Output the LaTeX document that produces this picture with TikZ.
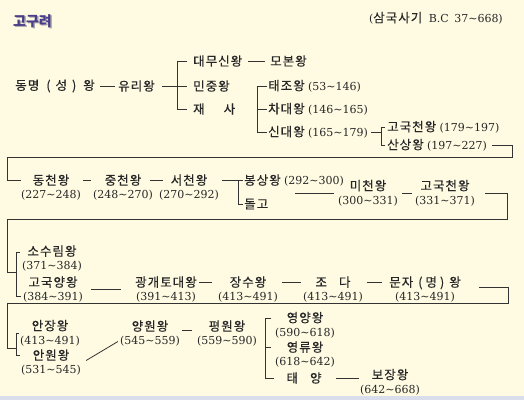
\documentclass[tikz,border=0pt]{standalone}
\usepackage{fontspec}
\setmainfont{DejaVu Serif}
\newfontfamily\krfont[LetterSpace=8,FakeBold=0.4]{Noto Sans CJK KR}
\newfontfamily\krtitle{Noto Sans CJK KR}
\newcommand\kor[1]{{\fontsize{12.5}{14}\selectfont\krfont #1}}
\newcommand\tld{\textasciitilde}
\definecolor{bgc}{HTML}{FFFBE3}
\definecolor{stripc}{HTML}{D9DDEC}
\definecolor{textc}{HTML}{262626}
\definecolor{linec}{HTML}{333333}
\definecolor{titlec}{HTML}{4A3C8C}
\begin{document}
\begin{tikzpicture}[x=1pt,y=-1pt,
  ln/.style={draw=linec, line width=0.8pt},
  tx/.style={inner sep=0pt, text=textc, font=\fontsize{11}{14}\selectfont},
  two/.style={tx, align=center},
  ttlstyle/.style={inner sep=0pt, font=\fontsize{14}{16}\selectfont\krtitle\bfseries}]
\useasboundingbox (0,0) rectangle (524,400);
\fill[bgc] (0,0) rectangle (524,400);
\fill[stripc] (0,396) rectangle (524,400);

% header
\node[ttlstyle, text=black!35] (ttlsh) at (34,22.5) {고구려};
\node[ttlstyle, text=titlec] (ttl) at (32.5,21) {고구려};
\node[tx, anchor=east] (src) at (503,18) {(\kor{삼국사기}\hspace{3pt} B.C\hspace{2pt} 37\tld668)};

% row 1
\node[tx, anchor=east] (dm) at (95,86) {\kor{동명\hspace{7pt}(\hspace{5pt}성\hspace{5pt})\hspace{7pt}왕}};
\node[tx, anchor=west] (yr) at (118,86) {\kor{유리왕}};
\draw[ln] ([xshift=5pt]dm.east) -- ([xshift=-3pt]yr.west);
\node[tx, anchor=west] (dms) at (193,61) {\kor{대무신왕}};
\node[tx, anchor=west] (mb) at (270,61) {\kor{모본왕}};
\draw[ln] ([xshift=6pt]dms.east) -- ([xshift=-5pt]mb.west);
\node[tx, anchor=west] (mj) at (193,86) {\kor{민중왕}};
\node[tx, anchor=west] (jsa) at (193,109) {\kor{재\hspace{19pt}사}};
\coordinate (b1t) at (177,61);
\coordinate (b1b) at (177,109);
\draw[ln] ([xshift=-6pt]dms.west) -- (b1t) -- (b1b) -- ([xshift=-6pt]jsa.west);
\draw[ln] ([xshift=7pt]yr.east) -- ([xshift=-6pt]mj.west);

% sons of jaesa
\node[tx, anchor=west] (tj) at (268,86) {\kor{태조왕} (53\tld146)};
\node[tx, anchor=west] (cd) at (268,109) {\kor{차대왕} (146\tld165)};
\node[tx, anchor=west] (sd) at (268,132) {\kor{신대왕} (165\tld179)};
\coordinate (b2t) at (257,86);
\coordinate (b2b) at (257,132);
\draw[ln] ([xshift=-1pt]tj.west) -- (b2t) -- (b2b) -- ([xshift=-1pt]sd.west);
\draw[ln] (b2t |- cd.west) -- ([xshift=-1pt]cd.west);

\node[tx, anchor=west] (gk1) at (387,127) {\kor{고국천왕} (179\tld197)};
\node[tx, anchor=west] (ss) at (387,145) {\kor{산상왕} (197\tld227)};
\coordinate (b3t) at (381,127);
\coordinate (b3b) at (381,145);
\coordinate (b3m) at (381,132);
\draw[ln] ([xshift=3pt]sd.east) -- (b3m);
\draw[ln] ([xshift=-2pt]gk1.west) -- (b3t) -- (b3b) -- ([xshift=-2pt]ss.west);

% wrap 1
\coordinate (w1a) at (512,157);
\coordinate (w1b) at (7,157);

% row 3
\node[two] (dc) at (51,187.5) {\kor{동천왕}\\(227\tld248)};
\node[two] (jc) at (123,187.5) {\kor{중천왕}\\(248\tld270)};
\node[two] (sc) at (189,187.5) {\kor{서천왕}\\(270\tld292)};
\draw[ln] ([xshift=5pt]ss.east) -| (w1a) -- (w1b) |- ([yshift=7pt]dc.west);
\draw[ln] ([xshift=2pt,yshift=7pt]dc.east) -- ([xshift=-2pt,yshift=7pt]jc.west);
\draw[ln] ([xshift=-3pt,yshift=7pt]jc.east) -- ([xshift=4pt,yshift=7pt]sc.west);
\node[tx, anchor=west] (bs) at (244,180.5) {\kor{봉상왕} (292\tld300)};
\node[tx, anchor=west] (dg) at (244,204) {\kor{돌고}};
\coordinate (b4t) at (238,180.5);
\draw[ln] ([xshift=3pt,yshift=7pt]sc.east) -- ([xshift=-1pt]bs.west);
\draw[ln] (b4t) |- ([xshift=-1pt]dg.west);

\node[two] (mc) at (368,193) {\kor{미천왕}\\(300\tld331)};
\node[two] (gc) at (445,193) {\kor{고국천왕}\\(331\tld371)};
\draw[ln] ([xshift=27pt]dg.east |- mc.west) -- ([xshift=-4pt]mc.west);
\draw[ln] ([xshift=4pt]mc.east) -- ([xshift=-3pt]gc.west);

% wrap 2
\coordinate (w2a) at (507,219);
\coordinate (w2b) at (7,219);
\coordinate (b5m) at (16,272);
\draw[ln] ([xshift=10pt]gc.east) -| (w2a) -- (w2b) |- (b5m);

% row 4
\node[two] (sl) at (52,258.5) {\kor{소수림왕}\\(371\tld384)};
\node[two] (gy) at (53,289.5) {\kor{고국양왕}\\(384\tld391)};
\coordinate (b5t) at (16,252);
\coordinate (b5b) at (16,296);
\draw[ln] ([xshift=-2pt,yshift=6.5pt]sl.west) -- (b5t) -- (b5b) -- ([xshift=-2pt,yshift=-6.5pt]gy.west);

\node[two] (gg) at (166,289.5) {\kor{광개토대왕}\\(391\tld413)};
\node[two] (jsw) at (248,289.5) {\kor{장수왕}\\(413\tld491)};
\node[two] (jdn) at (333,289.5) {\kor{조\hspace{12pt}다}\\(413\tld491)};
\node[two] (mj2) at (425,289.5) {\kor{문자\hspace{5pt}(\hspace{3pt}명\hspace{3pt})\hspace{5pt}왕}\\(413\tld491)};
\draw[ln] ([xshift=8pt]gy.east) -- ([xshift=-14pt]gg.west);
\draw[ln] ([xshift=2pt,yshift=7pt]gg.east) -- ([xshift=-6pt,yshift=7pt]jsw.west);
\draw[ln] ([xshift=3.5pt,yshift=7pt]jsw.east) -- ([xshift=-2pt,yshift=7pt]jdn.west);
\draw[ln] ([xshift=3.5pt,yshift=7pt]jdn.east) -- ([xshift=-7pt,yshift=7pt]mj2.west);

% wrap 3
\coordinate (w3a) at (508,303);
\coordinate (w3b) at (7,303);
\coordinate (b6m) at (16,348);
\draw[ln] ([xshift=18pt,yshift=2pt]mj2.east) -| (w3a) -- (w3b) |- (b6m);

% row 5
\node[two] (ajw) at (50,333) {\kor{안장왕}\\(413\tld491)};
\node[two] (aww) at (51,362.5) {\kor{안원왕}\\(531\tld545)};
\coordinate (b6t) at (16,333);
\coordinate (b6b) at (16,355.5);
\draw[ln] ([xshift=-1pt]ajw.west) -- (b6t) -- (b6b) -- ([xshift=-1pt,yshift=7pt]aww.west);

\node[two] (yw) at (150,333.5) {\kor{양원왕}\\(545\tld559)};
\node[two] (pw) at (227,333.5) {\kor{평원왕}\\(559\tld590)};
\draw[ln] ([xshift=5pt,yshift=2pt]aww.east) -- ([xshift=-2pt,yshift=-8pt]yw.west);
\draw[ln] ([xshift=2pt,yshift=3pt]yw.east) -- ([xshift=-5pt,yshift=3pt]pw.west);

\node[two] (yy) at (305,325) {\kor{영양왕}\\(590\tld618)};
\node[two] (yl) at (305,354.5) {\kor{영류왕}\\(618\tld642)};
\node[tx] (ty) at (304,378) {\kor{태\hspace{12pt}양}};
\coordinate (b7t) at (265,318);
\coordinate (b7m) at (265,347.5);
\coordinate (b7b) at (265,378);
\draw[ln] ([xshift=-3.5pt,yshift=7pt]yy.west) -- (b7t) -- (b7b) -- ([xshift=-12pt]ty.west);
\draw[ln] (b7m) -- ([xshift=-3.5pt,yshift=7pt]yl.west);

\node[two] (bjw) at (390,382) {\kor{보장왕}\\(642\tld668)};
\draw[ln] ([xshift=14pt]ty.east) -- ([xshift=-1pt]bjw.west |- ty.east);
\end{tikzpicture}
\end{document}
